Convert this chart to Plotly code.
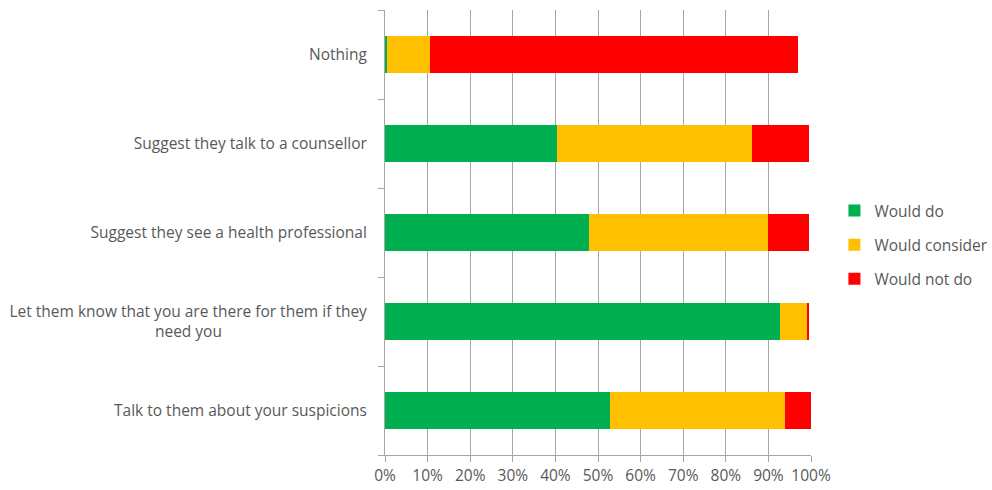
import plotly.graph_objects as go

# Survey responses: what people would do (percent of respondents)
actions = [
    "Talk to them about your suspicions",
    "Let them know that you are there for them if they<br>need you" + "\u00a0" * 36,
    "Suggest they see a health professional",
    "Suggest they talk to a counsellor",
    "Nothing",
]
would_do = [52.9, 92.7, 47.8, 40.3, 0.5]
would_consider = [41.0, 6.4, 42.2, 45.9, 10.1]
would_not_do = [6.1, 0.5, 9.6, 13.4, 86.4]

series = [
    ("Would do", would_do, "#00B050"),
    ("Would consider", would_consider, "#FFC000"),
    ("Would not do", would_not_do, "#FF0000"),
]

x_ticks = list(range(0, 101, 10))
x_labels = [f"{v}%" for v in x_ticks]

font_family = "Open Sans, Noto Sans, sans-serif"
text_color = "#595959"
grid_color = "#A6A6A6"
fs = 15.5

fig = go.Figure()
for name, vals, color in series:
    fig.add_trace(go.Bar(
        y=actions,
        x=vals,
        name=name,
        legendgroup=name,
        orientation="h",
        marker=dict(color=color, line=dict(width=0)),
    ))

fig.update_layout(
    barmode="stack",
    bargap=0.59,
    width=992,
    height=490,
    margin=dict(l=385, r=181, t=10, b=35, autoexpand=False),
    paper_bgcolor="white",
    plot_bgcolor="white",
    font=dict(family=font_family, size=fs, color=text_color),
    legend=dict(
        x=1.055, y=0.472, xanchor="left", yanchor="middle",
        traceorder="grouped",
        font=dict(size=fs, color=text_color),
        itemwidth=30,
        tracegroupgap=11,
    ),
    showlegend=True,
)

fig.update_xaxes(
    range=[0, 100],
    tickvals=x_ticks,
    ticktext=x_labels,
    showgrid=True,
    gridcolor=grid_color,
    gridwidth=1,
    showline=True,
    linecolor=grid_color,
    ticks="outside",
    ticklen=6,
    tickcolor=grid_color,
    zeroline=False,
    tickfont=dict(size=fs, color=text_color),
)

fig.update_yaxes(
    categoryorder="array",
    categoryarray=actions,
    showline=True,
    linecolor=grid_color,
    ticks="outside",
    tickson="boundaries",
    ticklen=6,
    tickcolor=grid_color,
    showgrid=False,
    ticklabelstandoff=14,
    tickfont=dict(size=fs, color=text_color),
)

fig.write_html("out.html")
